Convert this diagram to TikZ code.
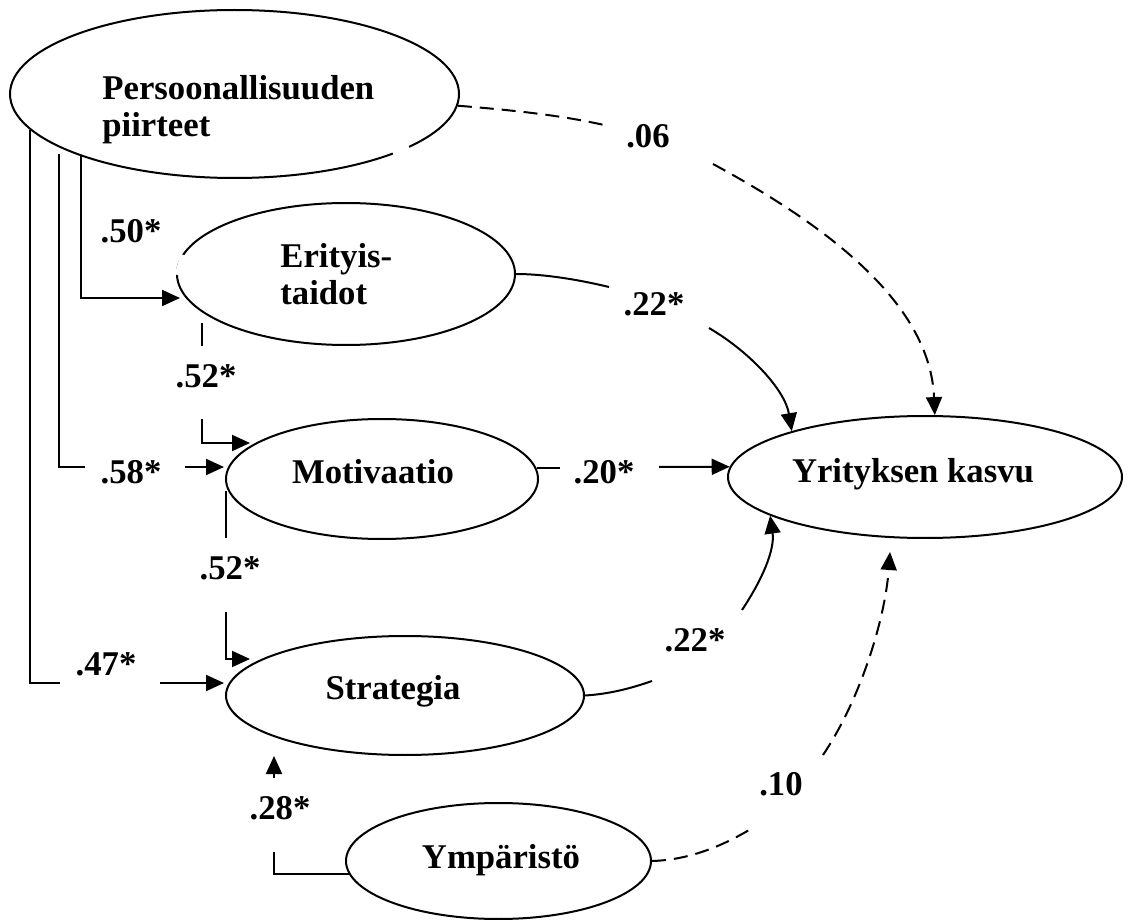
\documentclass[tikz,border=0pt]{standalone}
\usepackage{fontspec}
\setmainfont{Liberation Serif}
\usetikzlibrary{shapes.geometric,arrows.meta}
\begin{document}
\begin{tikzpicture}[x=0.5pt,y=-0.5pt,
  lv/.style={ellipse, draw, line width=1pt, inner sep=0pt},
  txt/.style={font={\fontsize{17.35}{18.5}\selectfont\bfseries}, inner sep=0pt},
  lab/.style={txt, anchor=base},
  conn/.style={line width=1pt},
  arr/.style={conn, -{Triangle[length=9pt,width=8pt]}},
  dsh/.style={dash pattern=on 7pt off 4pt}
]
\useasboundingbox (0,0) rectangle (1132,920);
% latent variables
\node[lv, minimum width=224.5pt, minimum height=84pt] (P) at (234.5,94) {};
\node[lv, minimum width=169pt, minimum height=71pt] (E) at (346,274) {};
\node[lv, minimum width=156pt, minimum height=60pt] (M) at (382,479) {};
\node[lv, minimum width=179pt, minimum height=59.5pt] (S) at (405,695.5) {};
\node[lv, minimum width=152.5pt, minimum height=58pt] (Y) at (498.5,861) {};
\node[lv, minimum width=197pt, minimum height=61pt] (K) at (925,477) {};
% small breaks in the outlines
\draw[white, line width=3pt] (393,153.5) -- (409,146.9);
\draw[white, line width=3pt] (183.5,255) -- (177.5,275);
% texts
\node[txt, anchor=base west, align=left] (tP) at (102,137) {Persoonallisuuden\\piirteet};
\node[txt, anchor=base west, align=left] (tE) at (280,305) {Erityis-\\taidot};
\node[lab] (tM) at (373,483) {Motivaatio};
\node[lab] (tS) at (393,699) {Strategia};
\node[lab] (tY) at (501,868) {Ympäristö};
\node[lab] (tK) at (913,482) {Yrityksen kasvu};
% coefficients
\node[lab] (l50) at (131,243) {.50*};
\node[lab] (l58) at (131,483) {.58*};
\node[lab] (l47) at (106,675) {.47*};
\node[lab] (l52a) at (206,387) {.52*};
\node[lab] (l52b) at (230,579) {.52*};
\node[lab] (l28) at (280,819) {.28*};
\node[lab] (l20) at (604,483) {.20*};
\node[lab] (l06) at (648,148) {.06};
\node[lab] (l22a) at (654,315) {.22*};
\node[lab] (l22b) at (695,651) {.22*};
\node[lab] (l10) at (781,795) {.10};
% P -> E
\coordinate (a50t) at (180,298);
\draw[arr] (P.202) |- (a50t);
% P -> M
\coordinate (a58s) at (59,154);
\coordinate (a58g1) at (85,467);
\coordinate (a58g2) at (185,467);
\coordinate (a58t) at (224,467);
\draw[conn] (a58s) |- (a58g1);
\draw[arr] (a58g2) -- (a58t);
% P -> S
\coordinate (a47g1) at (60,683);
\coordinate (a47g2) at (160,683);
\coordinate (a47t) at (224,683);
\draw[conn] (P.190.5) |- (a47g1);
\draw[arr] (a47g2) -- (a47t);
% E -> M
\coordinate (b1s) at (202,323);
\coordinate (b1g1) at (202,346);
\coordinate (b1g2) at (202,419);
\coordinate (b1t) at (250,443);
\draw[conn] (b1s) -- (b1g1);
\draw[arr] (b1g2) |- (b1t);
% M -> S
\coordinate (b2s) at (226,491);
\coordinate (b2g1) at (226,538);
\coordinate (b2g2) at (226,612);
\coordinate (b2t) at (250,659);
\draw[conn] (b2s) -- (b2g1);
\draw[arr] (b2g2) |- (b2t);
% Y -> S
\coordinate (c1g1) at (274,852);
\coordinate (c1g2) at (274,778);
\coordinate (c1t) at (274,756);
\draw[conn] (Y.185.4) -| (c1g1);
\draw[arr] (c1g2) -- (c1t);
% M -> K
\coordinate (d1g2) at (659,467);
\draw[conn] (M.4.5) -- ++(23,0);
\draw[arr] (d1g2) -- (K.177);
% E -> K
\coordinate (e1g1) at (609,287);
\coordinate (e1g2) at (709,328);
\draw[conn] (E.east) .. controls (545,274) and (580,280) .. (e1g1);
\draw[arr] (e1g2) .. controls (750,352) and (785,390) .. (K.161.8);
% P -> K (dashed)
\coordinate (f1g1) at (604,125);
\coordinate (f1g2) at (713,164);
\draw[conn,dsh] (P.-3.4) .. controls (510,110) and (560,115) .. (f1g1);
\draw[arr,dsh] (f1g2) .. controls (820,222) and (930,300) .. (K.81.6);
% S -> K
\coordinate (g1g1) at (652,681);
\coordinate (g1g2) at (742,610);
\draw[conn] (S.east) .. controls (610,694) and (632,688) .. (g1g1);
\draw[arr] (g1g2) .. controls (762,580) and (775,550) .. (K.194.8);
% Y -> K (dashed)
\coordinate (h1g1) at (754,827);
\coordinate (h1g2) at (823,755);
\coordinate (h1t) at (890,552);
\draw[conn,dsh] (Y.east) .. controls (690,860) and (725,845) .. (h1g1);
\draw[arr,dsh] (h1g2) .. controls (860,700) and (885,620) .. (h1t);
\end{tikzpicture}
\end{document}
